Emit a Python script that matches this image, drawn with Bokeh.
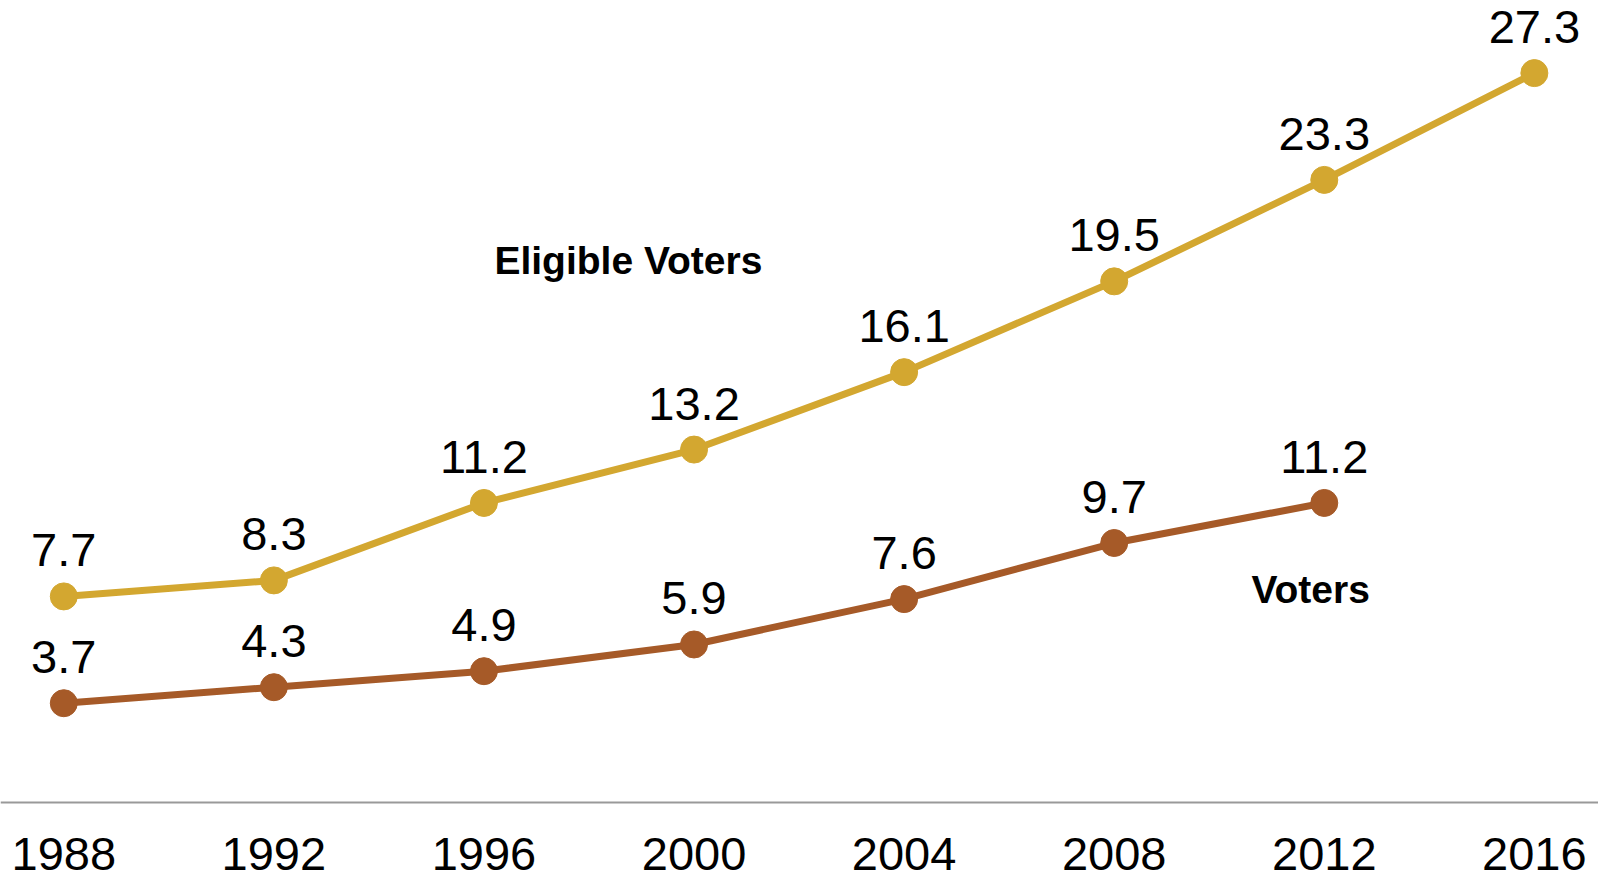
from bokeh.plotting import figure
from bokeh.models import Range1d, FixedTicker, ColumnDataSource, Label
from bokeh.core.properties import value
from bokeh.embed import file_html
from bokeh.resources import INLINE

years = [1988, 1992, 1996, 2000, 2004, 2008, 2012, 2016]
eligible = [7.7, 8.3, 11.2, 13.2, 16.1, 19.5, 23.3, 27.3]
voter_years = [1988, 1992, 1996, 2000, 2004, 2008, 2012]
voters = [3.7, 4.3, 4.9, 5.9, 7.6, 9.7, 11.2]
tick_labels = {y: str(y) for y in years}

GOLD = "#D3A730"
BROWN = "#A65A28"
FONT = "Liberation Sans"

p = figure(width=1598, height=880, output_backend="svg", toolbar_location=None,
           x_range=Range1d(1986.795, 2017.221), y_range=Range1d(-2.940, 30.019),
           min_border=0, min_border_left=0, min_border_right=0,
           min_border_top=0, min_border_bottom=0)
p.outline_line_color = None
p.grid.visible = False
p.yaxis.visible = False
p.background_fill_color = "white"
p.border_fill_color = "white"

xa = p.xaxis[0]
xa.fixed_location = 0
xa.ticker = FixedTicker(ticks=years)
xa.major_label_overrides = tick_labels
xa.major_tick_line_color = None
xa.minor_tick_line_color = None
xa.axis_line_color = "#999999"
xa.axis_line_width = 2
xa.major_label_text_font = FONT
xa.major_label_text_font_size = "47px"
xa.major_label_text_color = "black"
xa.major_label_standoff = 30

src_e = ColumnDataSource(dict(x=years, y=eligible, t=[f"{v:.1f}" for v in eligible]))
src_v = ColumnDataSource(dict(x=voter_years, y=voters, t=[f"{v:.1f}" for v in voters]))

for src, col in ((src_e, GOLD), (src_v, BROWN)):
    p.line("x", "y", source=src, line_color=col, line_width=7)
    p.scatter("x", "y", source=src, size=27, fill_color=col, line_color=col)
    p.text("x", "y", text="t", source=src, text_align="center",
           text_baseline="alphabetic", y_offset=-46,
           text_font=value(FONT), text_font_size="47px", text_color="black")

p.add_layout(Label(x=1998.75, y=20.28, text="Eligible Voters", text_align="center",
                   text_baseline="alphabetic", text_font=FONT, text_font_size="39px",
                   text_font_style="bold", text_color="black"))
p.add_layout(Label(x=2011.74, y=7.96, text="Voters", text_align="center",
                   text_baseline="alphabetic", text_font=FONT, text_font_size="39px",
                   text_font_style="bold", text_color="black"))

open("out.html", "w").write(file_html(p, INLINE))
